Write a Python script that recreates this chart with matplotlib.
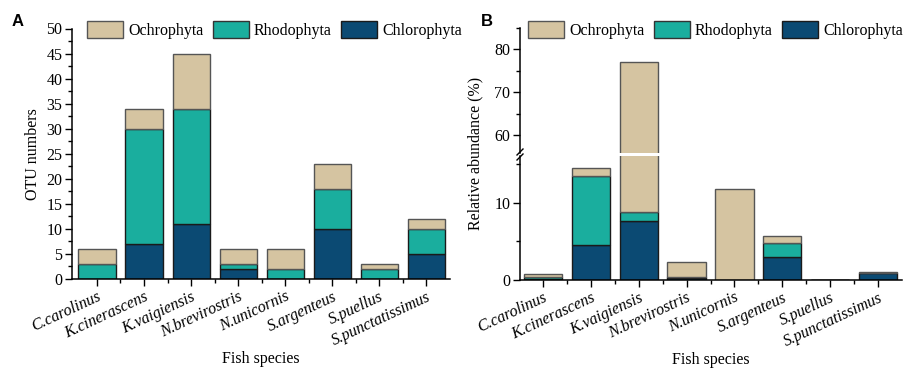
import matplotlib
matplotlib.use("Agg")
import matplotlib.pyplot as plt
from matplotlib.patches import Patch
from matplotlib.lines import Line2D
from matplotlib.ticker import MultipleLocator
import numpy as np

species = ["C.carolinus", "K.cinerascens", "K.vaigiensis", "N.brevirostris",
           "N.unicornis", "S.argenteus", "S.puellus", "S.punctatissimus"]

# Panel A: OTU numbers
otu_chloro = [0, 7, 11, 2, 0, 10, 0, 5]
otu_rhodo = [3, 23, 23, 1, 2, 8, 2, 5]
otu_ochro = [3, 4, 11, 3, 4, 5, 1, 2]

# Panel B: relative abundance (%)
ra_chloro = [0.15, 4.55, 7.66, 0.3, 0.0, 2.95, 0.0, 0.85]
ra_rhodo = [0.3, 8.95, 1.17, 0.05, 0.0, 1.9, 0.0, 0.1]
ra_ochro = [0.35, 1.0, 68.2, 1.95, 11.8, 0.9, 0.0, 0.12]

groups = ["Ochrophyta", "Rhodophyta", "Chlorophyta"]
c_ochro = "#D5C4A1"
c_rhodo = "#1AAE9E"
c_chloro = "#0B4A73"

serif = ["Liberation Serif", "DejaVu Serif"]
plt.rcParams["font.family"] = serif
plt.rcParams["xtick.direction"] = "out"
plt.rcParams["ytick.direction"] = "out"

W, H = 907, 372
fig = plt.figure(figsize=(W / 100, H / 100), dpi=100)

def box(l, t, r, b):
    return [l / W, 1 - b / H, (r - l) / W, (b - t) / H]

FS = 11.5
x = np.arange(len(species))

def draw_stack(ax, ch, rh, oc, width, edge_lw=1.0):
    ch = np.array(ch); rh = np.array(rh); oc = np.array(oc)
    ax.bar(x, ch, width, color=c_chloro, edgecolor="#1a1a1a", linewidth=edge_lw, zorder=2)
    ax.bar(x, rh, width, bottom=ch, color=c_rhodo, edgecolor="#1a1a1a", linewidth=edge_lw, zorder=2)
    ax.bar(x, oc, width, bottom=ch + rh, color=c_ochro, edgecolor="#555555", linewidth=edge_lw, zorder=2)

def style_axis(ax, bottom=True):
    for s in ["top", "right"]:
        ax.spines[s].set_visible(False)
    ax.spines["left"].set_linewidth(1.1)
    ax.spines["bottom"].set_linewidth(1.1)
    if not bottom:
        ax.spines["bottom"].set_visible(False)
    ax.tick_params(axis="both", which="major", length=5, width=1.0, labelsize=FS, pad=2)
    ax.tick_params(axis="both", which="minor", length=3, width=1.0)

def set_xticks(ax):
    ax.set_xticks(x)
    ax.set_xticks(x[:-1] + 0.5, minor=True)
    ax.set_xticklabels(species, rotation=25, ha="right", rotation_mode="anchor",
                       style="italic", fontsize=FS)

# ---------- Panel A ----------
axA = fig.add_axes(box(72, 28.5, 450, 279))
draw_stack(axA, otu_chloro, otu_rhodo, otu_ochro, 0.79)
axA.set_xlim(-0.53, 7.5)
axA.set_ylim(0, 50)
axA.yaxis.set_major_locator(MultipleLocator(5))
axA.yaxis.set_minor_locator(MultipleLocator(2.5))
style_axis(axA)
set_xticks(axA)
axA.set_ylabel("OTU numbers", fontsize=FS, labelpad=4)
axA.set_xlabel("Fish species", fontsize=FS, labelpad=2)

# ---------- Panel B (broken axis) ----------
axB_lo = fig.add_axes(box(520, 156, 902, 280))
axB_hi = fig.add_axes(box(520, 28, 902, 153), sharex=axB_lo)
for ax in (axB_lo, axB_hi):
    draw_stack(ax, ra_chloro, ra_rhodo, ra_ochro, 0.8)
axB_lo.set_xlim(-0.48, 7.5)
axB_lo.set_ylim(0, 16.1)
axB_hi.set_ylim(55.8, 85)
axB_lo.yaxis.set_major_locator(MultipleLocator(10))
axB_lo.yaxis.set_minor_locator(MultipleLocator(5))
axB_hi.yaxis.set_major_locator(MultipleLocator(10))
axB_hi.yaxis.set_minor_locator(MultipleLocator(5))
style_axis(axB_lo)
style_axis(axB_hi, bottom=False)
axB_hi.tick_params(axis="x", which="both", bottom=False, labelbottom=False)
set_xticks(axB_lo)
axB_lo.set_xlabel("Fish species", fontsize=FS, labelpad=2)
fig.text(475 / W, 1 - 153 / H, "Relative abundance (%)", rotation=90,
         ha="center", va="center", fontsize=FS)

# break marks on the left spine
for dy in (-2.5, 2.5):
    yc = 154.5 + dy
    fig.add_artist(Line2D([(517) / W, (523) / W], [1 - (yc + 3) / H, 1 - (yc - 3) / H],
                          color="black", lw=1.0))

# ---------- Legends ----------
handles = [Patch(facecolor=c_ochro, edgecolor="#555555", linewidth=1.0),
           Patch(facecolor=c_rhodo, edgecolor="#333333", linewidth=1.0),
           Patch(facecolor=c_chloro, edgecolor="#1a1a1a", linewidth=1.0)]
for lx in (87 / W, 528 / W):
    fig.legend(handles, groups, loc="upper left", bbox_to_anchor=(lx, 1 - 21 / H),
               ncol=3, frameon=False, fontsize=FS, handlelength=2.25,
               handleheight=1.3, handletextpad=0.35, columnspacing=0.55,
               borderpad=0, borderaxespad=0)

# ---------- Panel letters ----------
fig.text(12 / W, 1 - 21 / H, "A", fontsize=12, fontweight="bold",
         family=["Liberation Sans", "DejaVu Sans"], va="center", ha="left")
fig.text(481 / W, 1 - 21 / H, "B", fontsize=12, fontweight="bold",
         family=["Liberation Sans", "DejaVu Sans"], va="center", ha="left")

fig.savefig("out.png", dpi=100)
